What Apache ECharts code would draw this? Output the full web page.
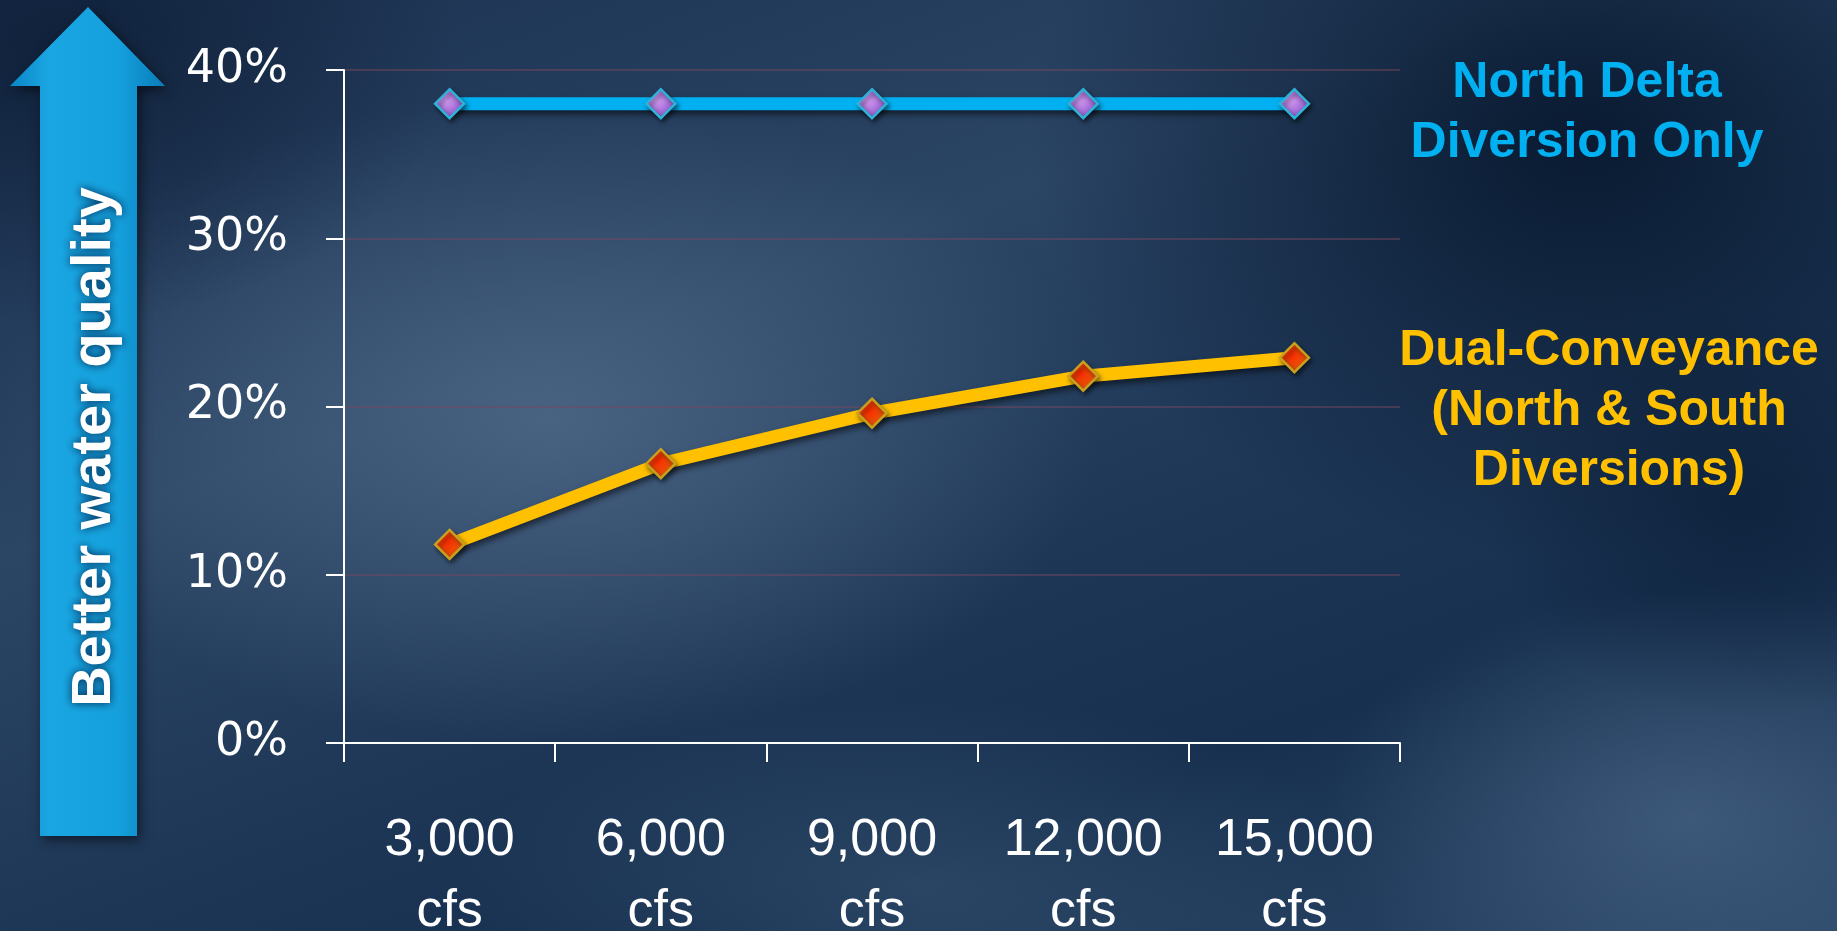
<!DOCTYPE html>
<html>
<head>
<meta charset="utf-8">
<script src="https://cdn.jsdelivr.net/npm/echarts@6/dist/echarts.min.js"></script>
<style>
html,body{margin:0;padding:0;width:1837px;height:931px;overflow:hidden;}
body{
  background:
    radial-gradient(ellipse 22% 30% at 3% 5%, rgba(12,28,52,0.75), rgba(12,28,52,0) 100%),
    radial-gradient(ellipse 30% 45% at 86% 15%, rgba(6,22,44,0.9), rgba(6,22,44,0) 100%),
    radial-gradient(ellipse 14% 22% at 95% 55%, rgba(10,28,52,0.6), rgba(10,28,52,0) 100%),
    radial-gradient(ellipse 30% 35% at 30% 45%, rgba(80,106,138,0.8), rgba(80,106,138,0) 100%),
    radial-gradient(ellipse 20% 25% at 92% 88%, rgba(72,100,132,0.7), rgba(72,100,132,0) 100%),
    radial-gradient(ellipse 25% 20% at 50% 95%, rgba(60,88,120,0.5), rgba(60,88,120,0) 100%),
    linear-gradient(160deg, #1b3150 0%, #2b4565 35%, #1d3656 60%, #17304f 75%, #2b4768 100%);
}
#chart{width:1837px;height:931px;}
</style>
</head>
<body>
<div id="chart"></div>
<script>
// ---- data ----
var categories = ['3,000\ncfs', '6,000\ncfs', '9,000\ncfs', '12,000\ncfs', '15,000\ncfs'];
var northDeltaOnly = [38, 38, 38, 38, 38];
var dualConveyance = [11.8, 16.6, 19.6, 21.8, 22.9];
var yTicks = [0, 10, 20, 30, 40];
var seriesNames = ['North Delta\nDiversion Only', 'Dual-Conveyance\n(North & South\nDiversions)'];
var arrowLabel = 'Better water quality';

var chart = echarts.init(document.getElementById('chart'), null, {renderer: 'canvas'});

function radial(c0, c1) {
  return {type: 'radial', x: 0.4, y: 0.4, r: 0.7,
    colorStops: [{offset: 0, color: c0}, {offset: 1, color: c1}]};
}

var option = {
  backgroundColor: 'transparent',
  animation: false,
  grid: {left: 344, right: 437, top: 70, bottom: 188, containLabel: false, outerBoundsMode: 'none'},
  xAxis: {
    type: 'category',
    data: categories,
    boundaryGap: true,
    axisLine: {show: true, lineStyle: {color: '#ffffff', width: 2}},
    axisTick: {show: true, length: 19, alignWithLabel: false, lineStyle: {color: '#ffffff', width: 2}},
    axisLabel: {
      color: '#ffffff', fontSize: 52, lineHeight: 71, margin: 62,
      fontFamily: '"Liberation Sans", Arial, sans-serif'
    },
    splitLine: {show: false}
  },
  yAxis: {
    type: 'value',
    min: yTicks[0], max: yTicks[yTicks.length - 1], interval: 10,
    axisLine: {show: true, lineStyle: {color: '#ffffff', width: 2}},
    axisTick: {show: true, length: 18, lineStyle: {color: '#ffffff', width: 2}},
    axisLabel: {
      color: '#ffffff', fontSize: 46, margin: 56,
      fontFamily: '"DejaVu Sans", sans-serif',
      formatter: '{value}%'
    },
    splitLine: {show: true, lineStyle: {color: 'rgba(120,72,96,0.65)', width: 1.5}}
  },
  series: [
    {
      name: seriesNames[0],
      type: 'line',
      data: northDeltaOnly,
      symbol: 'diamond',
      symbolSize: 29,
      lineStyle: {color: '#00b0f0', width: 13, shadowColor: 'rgba(0,0,0,0.55)', shadowBlur: 6, shadowOffsetY: 4, shadowOffsetX: 2},
      itemStyle: {color: radial('#d49cf2', '#7d45c0'), borderColor: '#2fb2d8', borderWidth: 2.5,
        shadowColor: 'rgba(0,0,0,0.5)', shadowBlur: 5, shadowOffsetX: 2, shadowOffsetY: 3},
      z: 3
    },
    {
      name: seriesNames[1],
      type: 'line',
      data: dualConveyance,
      symbol: 'diamond',
      symbolSize: 29,
      lineStyle: {color: '#ffc000', width: 13, shadowColor: 'rgba(0,0,0,0.55)', shadowBlur: 6, shadowOffsetY: 4, shadowOffsetX: 2},
      itemStyle: {color: radial('#ff2a00', '#d8680a'), borderColor: '#c8a020', borderWidth: 2.5,
        shadowColor: 'rgba(0,0,0,0.5)', shadowBlur: 5, shadowOffsetX: 2, shadowOffsetY: 3},
      z: 3
    }
  ],
  graphic: [
    {
      type: 'polygon',
      shape: {points: [[88, 7], [165, 86], [137, 86], [137, 836], [40, 836], [40, 86], [10, 86]]},
      style: {
        fill: {type: 'linear', x: 0, y: 0, x2: 1, y2: 0, colorStops: [
          {offset: 0, color: '#0b86c6'}, {offset: 0.25, color: '#1aa6e2'},
          {offset: 0.7, color: '#14a0dc'}, {offset: 1, color: '#0a7cba'}]},
        shadowColor: 'rgba(0,0,0,0.55)', shadowBlur: 12, shadowOffsetX: 3, shadowOffsetY: 4
      },
      z: 1
    },
    {
      type: 'text',
      x: 95, y: 447,
      rotation: Math.PI / 2,
      style: {
        text: arrowLabel,
        font: 'bold 56px "Liberation Sans", Arial, sans-serif',
        fill: '#ffffff',
        align: 'center', verticalAlign: 'middle',
        textShadowColor: 'rgba(0,30,70,0.95)', textShadowBlur: 10
      },
      z: 2
    },
    {
      type: 'text',
      x: 1587, y: 53,
      style: {
        text: seriesNames[0],
        font: 'bold 50px "Liberation Sans", Arial, sans-serif',
        fill: '#00b0f0', align: 'center', verticalAlign: 'top', lineHeight: 60
      }
    },
    {
      type: 'text',
      x: 1609, y: 321,
      style: {
        text: seriesNames[1],
        font: 'bold 50px "Liberation Sans", Arial, sans-serif',
        fill: '#ffc000', align: 'center', verticalAlign: 'top', lineHeight: 60
      }
    }
  ]
};
chart.setOption(option);
</script>
</body>
</html>
